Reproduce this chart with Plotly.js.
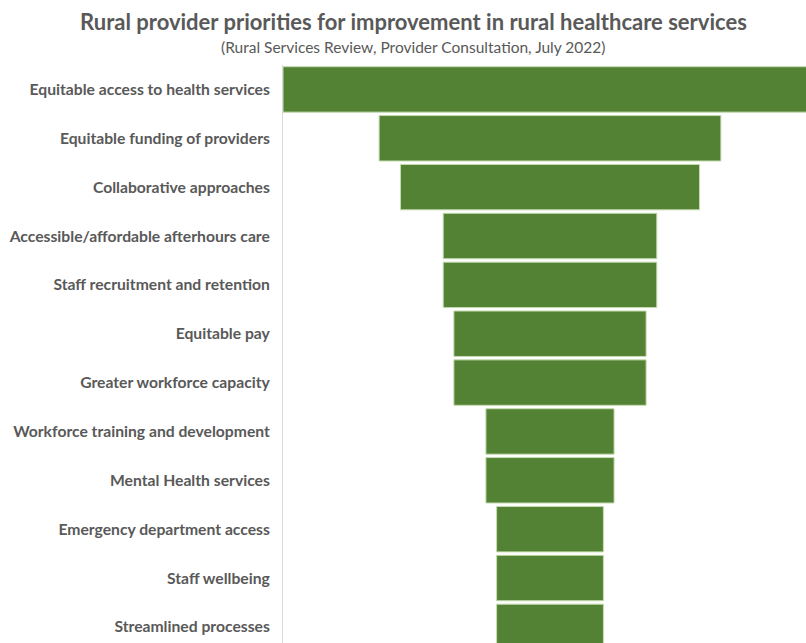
<!DOCTYPE html>
<html>
<head>
<meta charset="utf-8">
<script src="https://cdn.plot.ly/plotly-3.0.1.min.js"></script>
<style>
html,body{margin:0;padding:0;background:#fff;}
#chart{width:806px;height:643px;}
</style>
</head>
<body>
<div id="chart"></div>
<script>
const categories = [
  "Equitable access to health services",
  "Equitable funding of providers",
  "Collaborative approaches",
  "Accessible/affordable afterhours care",
  "Staff recruitment and retention",
  "Equitable pay",
  "Greater workforce capacity",
  "Workforce training and development",
  "Mental Health services",
  "Emergency department access",
  "Staff wellbeing",
  "Streamlined processes"
];
const values = [50, 32, 28, 20, 20, 18, 18, 12, 12, 10, 10, 10];

const titleText = "Rural provider priorities for improvement in rural healthcare services";
const subtitleText = "(Rural Services Review, Provider Consultation, July 2022)";

const FONT = "Lato, 'Open Sans', sans-serif";

const trace = {
  type: 'funnel',
  y: categories,
  x: values,
  orientation: 'h',
  textinfo: 'none',
  hoverinfo: 'x+y',
  marker: {color: '#548235', line: {color: '#c5dcb0', width: 1}},
  connector: {visible: false}
};

const layout = {
  width: 806,
  height: 643,
  margin: {l: 283, r: 0, t: 65, b: 0},
  paper_bgcolor: '#ffffff',
  plot_bgcolor: '#ffffff',
  funnelgap: 0.07,
  showlegend: false,
  title: {
    text: '<b>' + titleText + '</b>',
    font: {family: FONT, size: 22, color: '#595959'},
    x: 0.513, xref: 'container', xanchor: 'center',
    y: 0.965, yref: 'container', yanchor: 'middle'
  },
  annotations: [{
    text: subtitleText,
    xref: 'paper', yref: 'paper',
    x: 0.2486, xanchor: 'center',
    y: 1, yanchor: 'bottom', yshift: 7,
    showarrow: false,
    font: {family: FONT, size: 15.5, color: '#595959'}
  }],
  xaxis: {
    range: [-25, 23.97],
    visible: false,
    fixedrange: true
  },
  yaxis: {
    type: 'category',
    range: [11.33, -0.5],
    showline: true,
    linecolor: '#d9d9d9',
    linewidth: 1,
    showgrid: false,
    zeroline: false,
    ticks: '',
    ticklabelstandoff: 9,
    tickfont: {family: FONT, size: 15.7, color: '#595959', weight: 'bold'}
  }
};

Plotly.newPlot('chart', [trace], layout, {displayModeBar: false, staticPlot: true});
</script>
</body>
</html>
